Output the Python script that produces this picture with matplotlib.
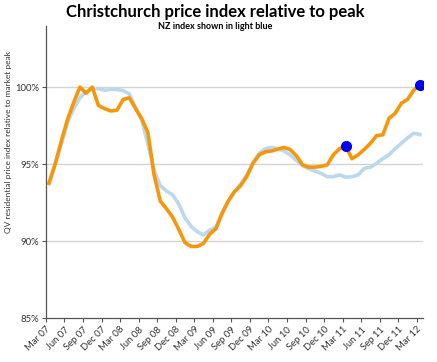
import numpy as np
import matplotlib.pyplot as plt

# monthly index, Mar 07 .. Mar 12 (61 months), % of peak
chch = [93.75, 95.0, 96.5, 97.9, 99.0, 100.0, 99.6, 100.0, 98.8, 98.6,
        98.45, 98.5, 99.2, 99.3, 98.6, 97.95, 97.05, 94.3, 92.6, 92.1,
        91.55, 90.75, 89.9, 89.65, 89.65, 89.85, 90.45, 90.8, 91.8, 92.6,
        93.2, 93.6, 94.2, 95.05, 95.6, 95.8, 95.85, 95.97, 96.08, 95.95,
        95.55, 94.95, 94.8, 94.8, 94.85, 94.95, 95.6, 96.0, 96.17, 95.35,
        95.6, 95.95, 96.35, 96.85, 96.9, 97.97, 98.3, 98.95, 99.2, 99.8,
        100.13]
nz = [93.75, 95.0, 96.3, 97.7, 98.6, 99.3, 99.7, 99.9, 99.9, 99.8,
      99.85, 99.85, 99.78, 99.55, 98.7, 97.85, 96.3, 94.6, 93.6, 93.25,
      93.0, 92.4, 91.5, 90.95, 90.6, 90.4, 90.7, 90.9, 91.8, 92.6,
      93.2, 93.7, 94.3, 95.1, 95.7, 96.0, 96.08, 96.0, 95.85, 95.6,
      95.25, 94.9, 94.7, 94.55, 94.4, 94.18, 94.18, 94.3, 94.15, 94.18,
      94.3, 94.72, 94.8, 95.05, 95.35, 95.6, 96.0, 96.35, 96.7, 97.0,
      96.92]
highlight = [48, 60]  # Mar 11 and Mar 12

qlabels = ["Mar 07", "Jun 07", "Sep 07", "Dec 07", "Mar 08", "Jun 08", "Sep 08",
           "Dec 08", "Mar 09", "Jun 09", "Sep 09", "Dec 09", "Mar 10", "Jun 10",
           "Sep 10", "Dec 10", "Mar 11", "Jun 11", "Sep 11", "Dec 11", "Mar 12"]
yticks = [85, 90, 95, 100]

plt.rcParams['font.family'] = ['Lato', 'DejaVu Sans']

fig = plt.figure(figsize=(4.37, 3.62), dpi=100)
ax = fig.add_axes([0.105, 0.1215, 0.863, 0.808])

x = np.arange(len(chch))
for y in yticks[1:]:
    ax.axhline(y, color='#d4d4d4', lw=1, zorder=1)
ax.plot(x, nz, color='#bcd8ec', lw=2.6, zorder=2, solid_joinstyle='round')
ax.plot(x, chch, color='#f7960a', lw=2.6, zorder=3, solid_joinstyle='round')
ax.plot(x[highlight], np.array(chch)[highlight], 'o', color='#0000f0',
        ms=7, zorder=4)

ax.set_xlim(-0.5, len(chch) - 0.5)
ax.set_ylim(85, 104)
ax.set_xticks(np.arange(len(qlabels)) * 3 - 0.5)
ax.set_xticklabels(qlabels, rotation=45, ha='right', rotation_mode='anchor',
                   fontsize=6.8, color='#333333')
ax.set_yticks(yticks)
ax.set_yticklabels(['%d%%' % v for v in yticks], fontsize=6.8, color='#333333')
ax.tick_params(length=3, width=0.8, color='#555555', pad=2)
for s in ['top', 'right']:
    ax.spines[s].set_visible(False)
for s in ['left', 'bottom']:
    ax.spines[s].set_color('#555555')
    ax.spines[s].set_linewidth(0.9)

ax.set_ylabel('QV residential price index relative to market peak',
              fontsize=6, color='#333333')
ax.yaxis.set_label_coords(-0.09, 0.60)

fig.text(0.492, 0.967, 'Christchurch price index relative to peak',
         ha='center', va='center', fontsize=12, fontweight='bold')
fig.text(0.492, 0.928, 'NZ index shown in light blue',
         ha='center', va='center', fontsize=6.5, fontweight='bold')

fig.savefig('out.png', dpi=100)
